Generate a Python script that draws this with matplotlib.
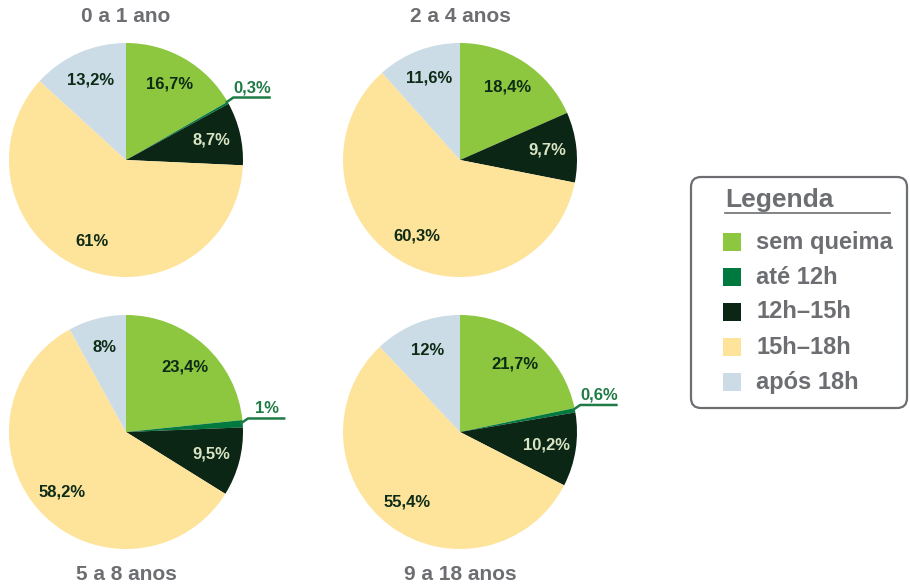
import numpy as np
import matplotlib
matplotlib.use('Agg')
import matplotlib.pyplot as plt
from matplotlib.patches import FancyBboxPatch

plt.rcParams['font.family'] = ['Liberation Sans', 'DejaVu Sans']
plt.rcParams['font.weight'] = 'bold'

# data
categorias = ['sem queima', 'até 12h', '12h–15h', '15h–18h', 'após 18h']
cores = ['#8dc63f', '#00793f', '#0b2614', '#fee39b', '#cbdce6']
faixas = ['0 a 1 ano', '2 a 4 anos', '5 a 8 anos', '9 a 18 anos']
v_0a1 = [16.7, 0.3, 8.7, 61.0, 13.2]
v_2a4 = [18.4, 0.0, 9.7, 60.3, 11.6]
v_5a8 = [23.4, 1.0, 9.5, 58.2, 8.0]
v_9a18 = [21.7, 0.6, 10.2, 55.4, 12.0]

cinza = '#6d6e71'
txt_escuro = '#0d2b16'
txt_claro = '#d9e4c4'
txt_verde = '#1e7b45'

W, H = 910, 586
fig = plt.figure(figsize=(W / 100, H / 100), dpi=100)

# overlay axes in pixel coords for titles and legend
ov = fig.add_axes([0, 0, 1, 1])
ov.set_xlim(0, W)
ov.set_ylim(H, 0)
ov.axis('off')

R = 117
centros = [(126, 160), (460, 160), (126, 432), (460, 432)]
titulo_y = [17, 17, 575, 575]


def fmt(v):
    return ('%g' % v).replace('.', ',') + '%'


def desenha_pizza(valores, cx, cy):
    ax = fig.add_axes([(cx - R) / W, 1 - (cy + R) / H, 2 * R / W, 2 * R / H])
    wedges, _ = ax.pie(valores, colors=cores, startangle=90, counterclock=False,
                       radius=1, wedgeprops=dict(linewidth=0))
    ax.set_xlim(-1, 1)
    ax.set_ylim(-1, 1)
    ax.axis('off')
    for i, (w, v) in enumerate(zip(wedges, valores)):
        if v <= 0:
            continue
        ang = np.deg2rad((w.theta1 + w.theta2) / 2)
        if v < 5:
            px, py = np.cos(ang), np.sin(ang)
            ex, ey = px + 0.045, py + 0.045
            ax.plot([px - 0.02, ex, ex + 0.32], [py, ey, ey], color=txt_verde,
                    lw=1.8, clip_on=False, solid_capstyle='butt')
            ax.text(ex + 0.16, ey + 0.02, fmt(v), ha='center', va='bottom',
                    fontsize=12, fontweight='bold', color=txt_verde)
        else:
            r = 0.75
            cor = txt_claro if i == 2 else txt_escuro
            ax.text(r * np.cos(ang), r * np.sin(ang), fmt(v), ha='center',
                    va='center', fontsize=12, fontweight='bold', color=cor)


for vals, (cx, cy), nome, ty in zip([v_0a1, v_2a4, v_5a8, v_9a18], centros, faixas, titulo_y):
    desenha_pizza(vals, cx, cy)
    ov.text(cx, ty, nome, ha='center', va='center', fontsize=15,
            fontweight='bold', color=cinza)

# legend box
caixa = FancyBboxPatch((691, 177), 216, 231, boxstyle='round,pad=0,rounding_size=10',
                       fc='white', ec=cinza, lw=1.6)
ov.add_patch(caixa)
ov.text(725, 207, 'Legenda', fontsize=19, fontweight='bold', color=cinza,
        ha='left', va='baseline')
ov.plot([725, 890], [213, 213], color=cinza, lw=1.2)
for i, (cat, cor) in enumerate(zip(categorias, cores)):
    y = 242 + 35 * i
    ov.scatter([732], [y], marker='s', s=150, color=cor, linewidths=0)
    ov.text(756, y, cat, fontsize=17, fontweight='bold', color=cinza,
            ha='left', va='center')

fig.savefig('out.png', dpi=100)
